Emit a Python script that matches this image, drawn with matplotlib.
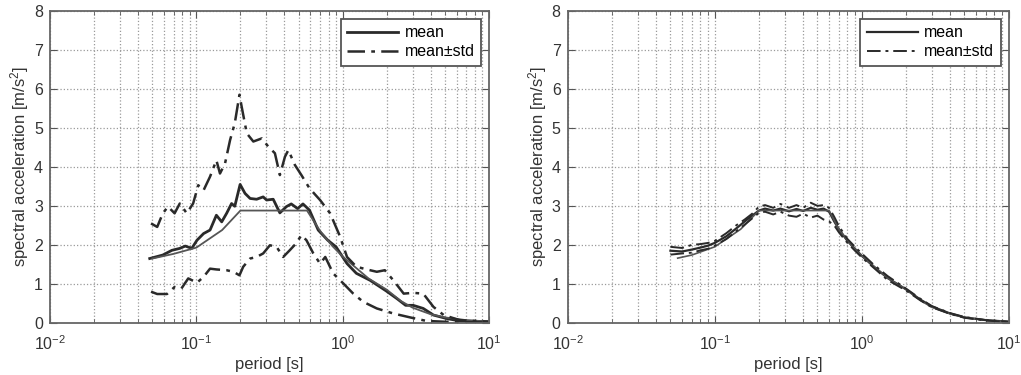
import numpy as np
import matplotlib
matplotlib.use("Agg")
import matplotlib.pyplot as plt
from matplotlib.ticker import LogLocator, NullFormatter

plt.rcParams['font.family'] = ['Liberation Sans', 'DejaVu Sans']
plt.rcParams['mathtext.fontset'] = 'custom'
plt.rcParams['mathtext.rm'] = 'Liberation Sans'
plt.rcParams['mathtext.it'] = 'Liberation Sans'

# ---- left panel: design spectrum, mean of records, mean +/- std ----
T_des_L = [0.05, 0.07, 0.1, 0.15, 0.2, 0.57, 0.7, 0.85, 1.0, 1.5, 2.0, 2.5, 3.0, 4.0, 5.0, 7.0, 10.0]
Sa_des_L = [1.65, 1.77, 1.93, 2.38, 2.88, 2.88, 2.36, 1.97, 1.70, 1.14, 0.85, 0.56, 0.39, 0.22, 0.14, 0.07, 0.035]

T_mean_L = [0.048, 0.059, 0.068, 0.077, 0.084, 0.093, 0.101, 0.112, 0.124, 0.137, 0.149, 0.161,
            0.174, 0.183, 0.199, 0.215, 0.233, 0.258, 0.286, 0.302, 0.335, 0.372, 0.412, 0.445,
            0.492, 0.535, 0.593, 0.68, 0.79, 0.90, 1.07, 1.24, 1.54, 1.98, 2.35, 2.69, 3.03,
            3.55, 4.17, 5.15, 6.3, 9.9]
Sa_mean_L = [1.65, 1.74, 1.86, 1.91, 1.97, 1.91, 2.12, 2.29, 2.38, 2.76, 2.59, 2.81,
             3.06, 2.99, 3.55, 3.32, 3.19, 3.17, 3.23, 3.15, 3.17, 2.82, 2.98, 3.05,
             2.93, 3.05, 2.89, 2.38, 2.12, 1.95, 1.52, 1.27, 1.09, 0.82, 0.62, 0.45, 0.45,
             0.37, 0.20, 0.11, 0.05, 0.03]

T_up_L = [0.049, 0.054, 0.059, 0.064, 0.071, 0.077, 0.086, 0.095, 0.103, 0.112, 0.124, 0.137,
          0.145, 0.157, 0.170, 0.183, 0.197, 0.204, 0.221, 0.245, 0.280, 0.310, 0.344, 0.372,
          0.403, 0.425, 0.471, 0.522, 0.593, 0.70, 0.82, 0.96, 1.07, 1.24, 1.46, 1.71, 1.94,
          2.22, 2.61, 3.03, 3.55, 4.17, 4.9, 6.3, 9.9]
Sa_up_L = [2.55, 2.46, 2.81, 2.98, 2.81, 3.06, 2.81, 3.06, 3.53, 3.40, 3.75, 4.17,
           3.83, 4.09, 4.69, 5.12, 5.85, 5.54, 4.86, 4.65, 4.73, 4.52, 4.35, 3.79,
           4.26, 4.43, 4.05, 3.79, 3.45, 3.15, 2.81, 2.21, 1.69, 1.44, 1.37, 1.31, 1.35,
           1.09, 0.75, 0.77, 0.75, 0.41, 0.20, 0.07, 0.03]

T_lo_L = [0.049, 0.054, 0.063, 0.071, 0.079, 0.088, 0.101, 0.112, 0.124, 0.137, 0.161, 0.179,
          0.197, 0.209, 0.233, 0.258, 0.286, 0.318, 0.353, 0.392, 0.434, 0.481, 0.522, 0.565,
          0.63, 0.70, 0.76, 0.86, 1.01, 1.18, 1.38, 1.71, 2.22, 2.89, 3.73, 4.9, 9.9]
Sa_lo_L = [0.80, 0.74, 0.74, 0.92, 0.88, 1.14, 1.03, 1.18, 1.39, 1.37, 1.35, 1.31,
           1.22, 1.44, 1.65, 1.69, 1.78, 1.99, 1.95, 1.69, 1.86, 2.04, 2.25, 2.12,
           1.78, 1.52, 1.69, 1.27, 1.01, 0.75, 0.54, 0.37, 0.24, 0.14, 0.05, 0.03, 0.01]

# ---- right panel ----
T_des_R = [0.056, 0.07, 0.1, 0.15, 0.2, 0.6, 0.7, 0.85, 1.0, 1.5, 2.0, 2.5, 3.0, 4.0, 5.0, 7.0, 10.0]
Sa_des_R = [1.66, 1.74, 1.95, 2.40, 2.88, 2.88, 2.40, 1.99, 1.72, 1.15, 0.86, 0.58, 0.40, 0.23, 0.14, 0.07, 0.03]

T_R = [0.05, 0.06, 0.07, 0.08, 0.09, 0.1, 0.12, 0.14, 0.16, 0.18, 0.2, 0.22, 0.25, 0.28, 0.32,
       0.36, 0.4, 0.45, 0.5, 0.55, 0.6, 0.65, 0.7, 0.8, 0.9, 1.0, 1.2, 1.5, 2.0, 2.5, 3.0,
       4.0, 5.0, 7.0, 10.0]
Sa_mean_R = [1.85, 1.83, 1.88, 1.93, 1.98, 2.05, 2.22, 2.42, 2.60, 2.75, 2.88, 2.93, 2.88, 2.93, 2.86,
             2.92, 2.87, 2.95, 2.90, 2.93, 2.85, 2.60, 2.40, 2.10, 1.90, 1.72, 1.45, 1.15, 0.86, 0.60, 0.42,
             0.24, 0.14, 0.07, 0.03]
Sa_up_R = [1.95, 1.92, 2.00, 2.02, 2.05, 2.10, 2.30, 2.50, 2.65, 2.80, 2.98, 3.02, 2.95, 3.05, 2.95,
           3.02, 2.95, 3.08, 3.00, 3.02, 2.95, 2.72, 2.48, 2.15, 1.95, 1.78, 1.50, 1.20, 0.88, 0.62, 0.43,
           0.25, 0.15, 0.07, 0.03]
Sa_lo_R = [1.75, 1.78, 1.80, 1.86, 1.90, 1.98, 2.15, 2.35, 2.52, 2.68, 2.82, 2.85, 2.78, 2.85, 2.75,
           2.72, 2.80, 2.70, 2.75, 2.65, 2.60, 2.50, 2.32, 2.05, 1.85, 1.68, 1.42, 1.10, 0.83, 0.58, 0.40,
           0.23, 0.13, 0.06, 0.02]

fig = plt.figure(figsize=(10.21, 3.75), dpi=100)
ax1 = fig.add_axes([0.049, 0.139, 0.430, 0.832])
ax2 = fig.add_axes([0.556, 0.139, 0.432, 0.832])

line_c = '#2a2a2a'
dd = (0, (7, 2.5, 1.5, 2.5))


def style(ax):
    ax.set_xscale('log')
    ax.set_xlim(1e-2, 1e1)
    ax.set_ylim(0, 8)
    ax.set_yticks(range(0, 9))
    ax.xaxis.set_minor_locator(LogLocator(base=10, subs=np.arange(2, 10)))
    ax.xaxis.set_minor_formatter(NullFormatter())
    ax.grid(True, which='major', axis='both', linestyle=':', color='#9a9a9a', linewidth=0.9)
    ax.grid(True, which='minor', axis='x', linestyle=':', color='#9a9a9a', linewidth=0.9)
    ax.tick_params(which='both', direction='in', top=True, right=True, colors='#555555',
                   labelcolor='#333333', labelsize=11.5)
    ax.tick_params(which='major', length=5)
    ax.tick_params(which='minor', length=3)
    ax.tick_params(axis='x', which='major', pad=8)
    ax.tick_params(axis='y', which='major', pad=5)
    for s in ax.spines.values():
        s.set_color('#666666')
        s.set_linewidth(1.3)
    ax.set_xlabel('period [s]', fontsize=12, color='#333333', labelpad=3)
    ax.set_ylabel('spectral acceleration [m/s$^2$]', fontsize=12, color='#333333', labelpad=2)


for ax in (ax1, ax2):
    style(ax)

# left
ax1.plot(T_mean_L, Sa_mean_L, color=line_c, lw=2.0, label='mean')
ax1.plot(T_des_L, Sa_des_L, color='#555555', lw=1.3)
ax1.plot(T_up_L, Sa_up_L, color=line_c, lw=1.8, linestyle=dd, label='mean\u00b1std')
ax1.plot(T_lo_L, Sa_lo_L, color=line_c, lw=1.8, linestyle=dd)

# right
ax2.plot(T_R, Sa_mean_R, color=line_c, lw=1.6, label='mean')
ax2.plot(T_des_R, Sa_des_R, color='#555555', lw=1.2)
ax2.plot(T_R, Sa_up_R, color=line_c, lw=1.4, linestyle=dd, label='mean\u00b1std')
ax2.plot(T_R, Sa_lo_R, color=line_c, lw=1.4, linestyle=dd)

for ax in (ax1, ax2):
    leg = ax.legend(loc='upper right', fontsize=11.5, handlelength=3.2, fancybox=False,
                    framealpha=1, borderaxespad=0.5, labelspacing=0.25, handletextpad=0.4)
    leg.get_frame().set_edgecolor('#555555')
    leg.get_frame().set_linewidth(1.3)

fig.savefig('out.png', dpi=100)
